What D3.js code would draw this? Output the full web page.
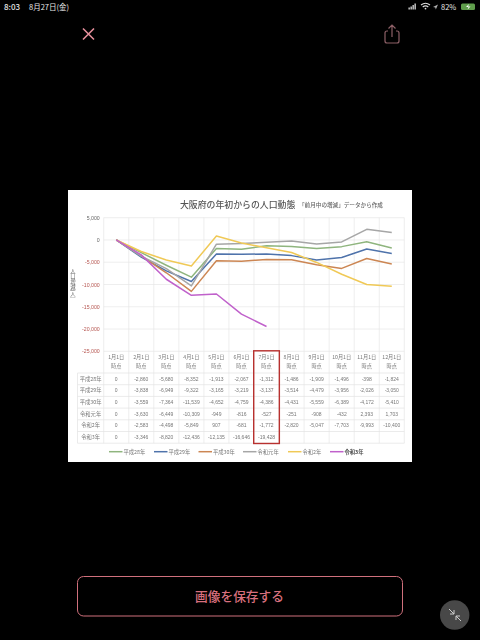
<!DOCTYPE html>
<html>
<head>
<meta charset="utf-8">
<script src="https://cdn.jsdelivr.net/npm/d3@7"></script>
<style>
html, body { margin: 0; background: #000; }
svg { display: block; font-family: "Noto Sans CJK JP", "Noto Sans", sans-serif; }
.panel { filter: blur(0.4px); }
.axis-y path, .axis-y line { display: none; }
</style>
</head>
<body>
<svg id="chart" width="480" height="640"></svg>
<script>
let months = ["1月1日", "2月1日", "3月1日", "4月1日", "5月1日", "6月1日", "7月1日", "8月1日", "9月1日", "10月1日", "11月1日", "12月1日"]
let seriesNames = ["平成28年", "平成29年", "平成30年", "令和元年", "令和2年", "令和3年"]
let seriesColors = ["#8fb57e", "#4f73ab", "#cc8653", "#a6a6a6", "#f0c956", "#c061cb"]
let h28 = [0, -2860, -5680, -8352, -1913, -2067, -1312, -1486, -1909, -1496, -398, -1824]
let h29 = [0, -3838, -6949, -9322, -3165, -3219, -3137, -3514, -4479, -3956, -2026, -3050]
let h30 = [0, -3559, -7364, -11539, -4652, -4759, -4386, -4431, -5559, -6389, -4172, -5410]
let r1 = [0, -3630, -6449, -10309, -949, -816, -527, -251, -908, -432, 2393, 1703]
let r2 = [0, -2583, -4498, -5849, 907, -681, -1772, -2820, -5047, -7703, -9993, -10400]
let r3 = [0, -3346, -8820, -12436, -12135, -16646, -19428]
let yTicks = [5000, 0, -5000, -10000, -15000, -20000, -25000]
let allSeries = [h28, h29, h30, r1, r2, r3]

let plotLeft = 103.7, plotRight = 404.3, plotTop = 217.7, plotBottom = 351.3
let tableLeft = 77.5, headTop = 351.3, headBottom = 373, rowH = 11.7
let textGray = "#777"

let svg = d3.select("#chart")
let x = d3.scaleBand(months, [plotLeft, plotRight])
let y = d3.scaleLinear([-25000, 5000], [plotBottom, plotTop])
// excel style hyphen for negatives
let fmt = d3.formatLocale({decimal: ".", thousands: ",", grouping: [3], currency: ["", ""], minus: "-"}).format(",")

// phone screen chrome
let chrome = svg.append("g")
chrome.append("text").text("8:03").attr("x", 4).attr("y", 10).attr("font-size", 8).attr("fill", "#e6e6e6").attr("font-weight", 500)
chrome.append("text").text("8月27日(金)").attr("x", 29).attr("y", 10).attr("font-size", 7.5).attr("fill", "#e6e6e6")
chrome.append("text").text("82%").attr("x", 441).attr("y", 10).attr("font-size", 7.5).attr("fill", "#e6e6e6")
chrome.selectAll("rect").data([2, 3, 4.5, 6]).join("rect")
    .attr("x", (d, i) => 408.5 + i * 2).attr("y", d => 9.5 - d).attr("width", 1.3).attr("height", d => d).attr("fill", "#e0e0e0")
chrome.append("path").attr("d", "M421 5 Q425.5 1.5 430 5 M422.7 7 Q425.5 4.8 428.3 7").attr("fill", "none").attr("stroke", "#e0e0e0").attr("stroke-width", 1.1)
chrome.append("circle").attr("cx", 425.5).attr("cy", 8.6).attr("r", 0.9).attr("fill", "#e0e0e0")
chrome.append("path").attr("d", "M433 7 L438 4.5 L435.8 9.5 L435.3 7.4 Z").attr("fill", "#b0b0b0")
chrome.append("rect").attr("x", 461).attr("y", 3.5).attr("width", 14).attr("height", 6.5).attr("rx", 1.5).attr("fill", "#5f9d4b")
chrome.append("path").attr("d", "M469 4 L466 7 H468.5 L467.5 9.5 L470.5 6.5 H468 Z").attr("fill", "#fff")
chrome.append("path").attr("d", "M83 28.5 L94 39.5 M94 28.5 L83 39.5").attr("stroke", "#e58f9b").attr("stroke-width", 1.6)
chrome.append("path").attr("d", "M388 31 H387 Q385 31 385 33 V41 Q385 43 387 43 H397 Q399 43 399 41 V33 Q399 31 397 31 H396 M392 37 V25 M388.5 28.5 L392 25 L395.5 28.5")
    .attr("fill", "none").attr("stroke", "#8d6067").attr("stroke-width", 1.2)

let panel = svg.append("g").attr("class", "panel")
panel.append("rect").attr("x", 68).attr("y", 190).attr("width", 344).attr("height", 272).attr("fill", "#fff")

panel.append("text").text("大阪府の年初からの人口動態").attr("x", 180).attr("y", 207.5).attr("font-size", 8.9).attr("font-weight", 500).attr("fill", "#555")
panel.append("text").text("「前月中の増減」データから作成").attr("x", 299).attr("y", 207).attr("font-size", 5.6).attr("font-weight", 500).attr("fill", "#666")

// grid
panel.append("g").selectAll("line").data(yTicks).join("line")
    .attr("x1", plotLeft).attr("x2", plotRight).attr("y1", d => y(d)).attr("y2", d => y(d))
    .attr("stroke", "#e6e6e6").attr("stroke-width", 0.7)
panel.append("g").selectAll("line").data(months.concat("end")).join("line")
    .attr("x1", (d, i) => plotLeft + i * x.step()).attr("x2", (d, i) => plotLeft + i * x.step())
    .attr("y1", plotTop).attr("y2", headBottom + rowH * 6)
    .attr("stroke", "#e6e6e6").attr("stroke-width", 0.7)

// y axis
let axisY = panel.append("g").attr("class", "axis-y")
    .attr("transform", `translate(${plotLeft - 4}, 0)`)
    .call(d3.axisLeft(y).tickValues(yTicks).tickFormat(fmt).tickSize(0).tickPadding(0))
axisY.selectAll("text").attr("font-size", 5.2).attr("font-family", "Liberation Sans").attr("fill", d => d < 0 ? "#b5544f" : "#666")

// vertical axis title
panel.append("text").text("人口増減(人)").attr("x", 73).attr("y", 268)
    .attr("writing-mode", "vertical-rl").attr("font-size", 5.4).attr("fill", "#666")

// lines
let line = d3.line().x((d, i) => x(months[i]) + x.bandwidth() / 2).y(d => y(d))
panel.append("g").selectAll("path").data(allSeries).join("path")
    .attr("d", d => line(d)).attr("fill", "none")
    .attr("stroke", (d, i) => seriesColors[i]).attr("stroke-width", 1.5).attr("stroke-linejoin", "round")

// table
let table = panel.append("g")
let rowLines = d3.range(7).map(i => headBottom + i * rowH)
table.append("g").selectAll("line").data(rowLines).join("line")
    .attr("x1", tableLeft).attr("x2", plotRight).attr("y1", d => d).attr("y2", d => d)
    .attr("stroke", "#e3e3e3").attr("stroke-width", 0.7)
table.append("line").attr("x1", tableLeft).attr("x2", tableLeft).attr("y1", headBottom).attr("y2", headBottom + 6 * rowH)
    .attr("stroke", "#e3e3e3").attr("stroke-width", 0.7)
table.append("g").selectAll("text").data(months).join("text")
    .text(d => d).attr("x", d => x(d) + x.bandwidth() / 2).attr("y", 358.8)
    .attr("text-anchor", "middle").attr("font-size", 5.2).attr("fill", textGray)
table.append("g").selectAll("text").data(months).join("text")
    .text("時点").attr("x", d => x(d) + x.bandwidth() / 2).attr("y", 368)
    .attr("text-anchor", "middle").attr("font-size", 5.2).attr("fill", textGray)
seriesNames.forEach((name, r) => {
    let cy = headBottom + (r + 0.5) * rowH + 1.8
    table.append("text").text(name).attr("x", (tableLeft + plotLeft) / 2).attr("y", cy)
        .attr("text-anchor", "middle").attr("font-size", 5.3).attr("fill", textGray)
    table.append("g").selectAll("text").data(allSeries[r]).join("text")
        .text(d => fmt(d)).attr("x", (d, i) => x(months[i]) + x.bandwidth() / 2).attr("y", cy)
        .attr("text-anchor", "middle").attr("font-size", 5).attr("font-family", "Liberation Sans").attr("fill", textGray)
})

// red box on the July column
panel.append("rect").attr("x", x("7月1日") - 0.3).attr("y", headTop - 0.5)
    .attr("width", x.bandwidth() + 0.6).attr("height", headBottom + 6 * rowH - headTop + 0.8)
    .attr("fill", "none").attr("stroke", "#b8312f").attr("stroke-width", 1.4)

// legend
let legendX = [109, 154, 198.5, 243, 288, 330]
let legend = panel.append("g").selectAll("g").data(seriesNames).join("g")
    .attr("transform", (d, i) => `translate(${legendX[i]}, 451.7)`)
legend.append("line").attr("x1", 0).attr("x2", 13.5).attr("stroke", (d, i) => seriesColors[i]).attr("stroke-width", 1.5)
legend.append("text").text(d => d).attr("x", 14.5).attr("y", 2).attr("font-size", 5.3)
    .attr("font-weight", (d, i) => i == 5 ? 700 : 400)
    .attr("fill", (d, i) => i == 5 ? "#444" : "#777")

// save button
svg.append("rect").attr("x", 77.5).attr("y", 576.5).attr("width", 325).attr("height", 39.5).attr("rx", 6)
    .attr("fill", "none").attr("stroke", "#d0707c").attr("stroke-width", 1)
svg.append("text").text("画像を保存する").attr("x", 239.5).attr("y", 601.3)
    .attr("text-anchor", "middle").attr("font-size", 12.7).attr("font-weight", 500).attr("fill", "#d9707e")
svg.append("circle").attr("cx", 454.7).attr("cy", 615).attr("r", 14.7).attr("fill", "#484848")
svg.append("path").attr("d", "M449 609 L454 614 M454 610 V614 H450 M461 621 L456 616 M456 620 V616 H460")
    .attr("fill", "none").attr("stroke", "#cfcfcf").attr("stroke-width", 1)
</script>
</body>
</html>
